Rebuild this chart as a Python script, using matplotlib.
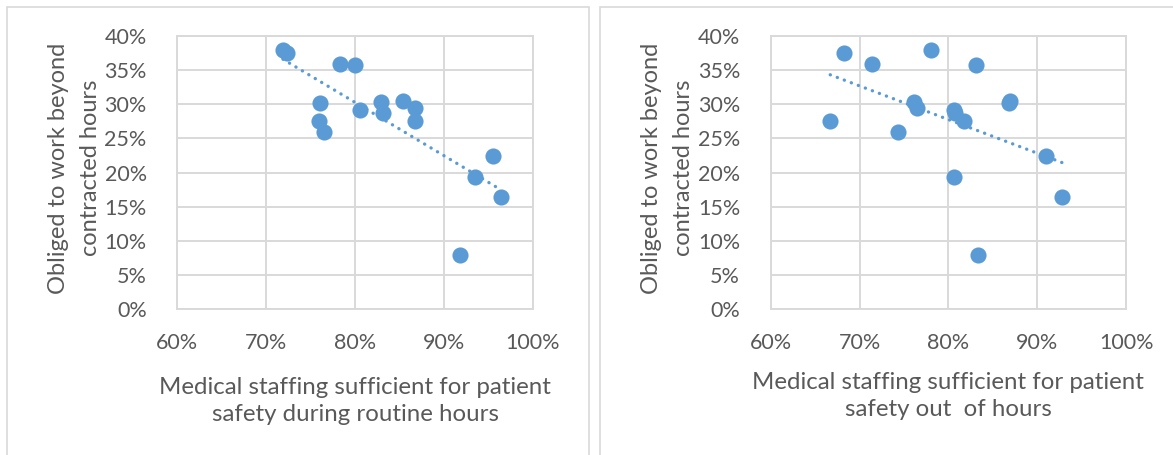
import matplotlib
matplotlib.use("Agg")
import matplotlib.pyplot as plt
import numpy as np
from matplotlib.patches import Rectangle
from matplotlib.ticker import FuncFormatter, MultipleLocator

# Share of respondents obliged to work beyond contracted hours (%)
beyond_hours = [38.0, 37.5, 35.9, 35.7, 30.2, 29.2, 30.3, 28.8, 30.5,
                29.4, 27.5, 27.6, 26.0, 22.4, 19.4, 16.4, 8.0]
# Medical staffing sufficient for patient safety, routine hours (%)
staffing_routine = [71.9, 72.4, 78.3, 80.0, 76.1, 80.6, 82.9, 83.2, 85.4,
                    86.8, 86.8, 75.9, 76.5, 95.5, 93.5, 96.4, 91.8]
# Medical staffing sufficient for patient safety, out of hours (%)
staffing_ooh = [78.0, 68.2, 71.4, 83.1, 86.8, 80.6, 76.1, 80.7, 86.9,
                76.5, 81.7, 66.7, 74.3, 91.0, 80.6, 92.8, 83.3]

x_titles = ["Medical staffing sufficient for patient\nsafety during routine hours",
            "Medical staffing sufficient for patient\nsafety out  of hours"]
y_title = "Obliged to work beyond\ncontracted hours"

W, H = 1173, 455
BLUE = "#5B9BD5"
GRID = "#D9D9D9"
TEXT = "#595959"
FONT = "Lato"

fig = plt.figure(figsize=(W / 100, H / 100), dpi=100)
fig.patch.set_facecolor("white")

# Panel frames
for x0, x1 in [(7, 589), (600, 1190)]:
    fig.patches.append(Rectangle((x0 / W, -0.1), (x1 - x0) / W, (H - 7) / H + 0.1,
                                 transform=fig.transFigure, fill=False,
                                 edgecolor=GRID, linewidth=1.2))

pct = FuncFormatter(lambda v, _: f"{v:.0f}%")

def panel(left_px, xs, ys, xlabel, xlab_y):
    ax = fig.add_axes([left_px / W, (H - 309.3) / H, 355.4 / W, (309.3 - 36) / H])
    ax.set_xlim(60, 100)
    ax.set_ylim(0, 40)
    ax.xaxis.set_major_locator(MultipleLocator(10))
    ax.yaxis.set_major_locator(MultipleLocator(5))
    ax.xaxis.set_major_formatter(pct)
    ax.yaxis.set_major_formatter(pct)
    ax.grid(True, color=GRID, linewidth=1.4)
    ax.set_axisbelow(True)
    for s in ax.spines.values():
        s.set_color(GRID)
        s.set_linewidth(1.4)
    ax.tick_params(length=0, labelsize=15.5, labelcolor=TEXT)
    ax.tick_params(axis="x", pad=17)
    ax.tick_params(axis="y", pad=22)
    for lab in ax.get_xticklabels() + ax.get_yticklabels():
        lab.set_fontfamily(FONT)

    ax.scatter(xs, ys, s=135, color=BLUE, zorder=3, linewidths=0)

    # Linear trendline over the data range
    xs_a = np.asarray(xs)
    k, b = np.polyfit(xs_a, np.asarray(ys), 1)
    tx = np.array([xs_a.min(), xs_a.max()])
    ax.plot(tx, k * tx + b, color=BLUE, linewidth=2.4,
            linestyle=(0, (0.05, 2.2)), dash_capstyle="round", zorder=2)

    cx = left_px + 355.4 / 2
    fig.text(cx / W, 1 - xlab_y / H, xlabel, ha="center", va="center",
             fontsize=17.3, color=TEXT, family=FONT, linespacing=1.4)
    fig.text((left_px - 103) / W, 1 - 168 / H, y_title, ha="center", va="center",
             rotation=90, fontsize=17, color=TEXT, family=FONT, linespacing=1.65)
    return ax

panel(177.3, staffing_routine, beyond_hours, x_titles[0], 401)
panel(770.7, staffing_ooh, beyond_hours, x_titles[1], 396)

fig.savefig("out.png", dpi=100, facecolor="white")
